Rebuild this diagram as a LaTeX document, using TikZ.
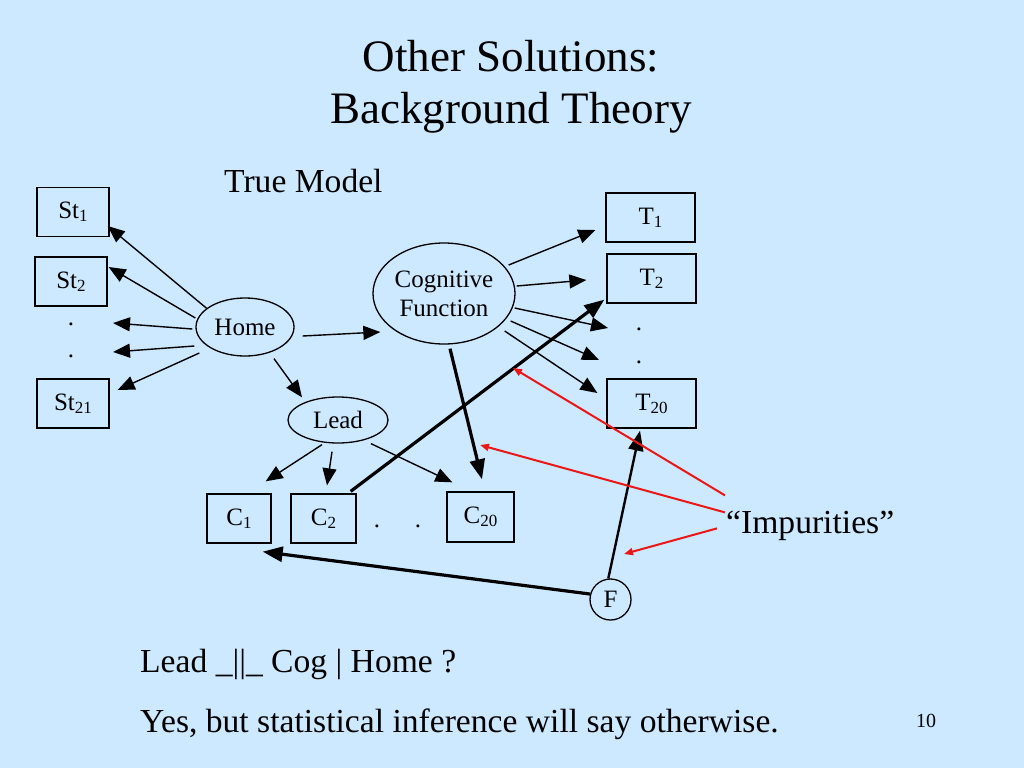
\documentclass[tikz,border=0pt]{standalone}
\usepackage{fontspec}
\setmainfont{Liberation Serif}
\usetikzlibrary{shapes.geometric,arrows.meta}
\definecolor{slideblue}{RGB}{204,233,255}
\definecolor{pointred}{RGB}{235,22,22}
\newcommand{\idx}[1]{\raisebox{-0.25ex}{\fontsize{17}{17}\selectfont #1}}
\tikzstyle{box} = [rectangle, minimum width=72pt, minimum height=49pt, inner sep=0pt, draw=black, line width=1.3pt, font=\fontsize{25}{29}\selectfont]
\tikzstyle{oval} = [ellipse, inner sep=0pt, draw=black, line width=1.3pt, font=\fontsize{25}{29}\selectfont, align=center]
\tikzstyle{txt} = [inner sep=0pt, font=\fontsize{25}{29}\selectfont]
\tikzstyle{arrow} = [line width=1.4pt,-{Triangle[length=17pt,width=14pt]}]
\tikzstyle{bigarrow} = [line width=3.2pt,-{Triangle[length=20pt,width=15pt]}]
\tikzstyle{redarrow} = [pointred,line width=2pt,-{Triangle[length=9pt,width=7pt]}]

\begin{document}
\begin{tikzpicture}[x=1pt,y=-1pt]
    \fill[slideblue] (0,0) rectangle (1024,768);
    \useasboundingbox (0,0) rectangle (1024,768);

    % title
    \node (title1) [inner sep=0pt, anchor=base, font=\fontsize{45}{52}\selectfont] at (511,71) {Other Solutions:};
    \node (title2) [inner sep=0pt, anchor=base, font=\fontsize{45}{52}\selectfont] at (511,123) {Background Theory};
    \node (model) [inner sep=0pt, anchor=base west, font=\fontsize{33.6}{40}\selectfont] at (224,192) {True Model};

    % left side
    \node (st1) [box] at (73,212) {St\idx{1}};
    \node (st2) [box] at (71,281.5) {St\idx{2}};
    \node (sdot1) [txt] at (71,324) {.};
    \node (sdot2) [txt] at (71,356) {.};
    \node (st21) [box] at (73,403.5) {St\idx{21}};
    \node (home) [oval, minimum width=98pt, minimum height=58pt] at (245,327) {Home};
    \node (lead) [oval, minimum width=100pt, minimum height=46pt] at (338,420) {Lead};
    \node (cog) [oval, minimum width=142pt, minimum height=101pt] at (444,293.5) {Cognitive\\Function};

    % right side
    \node (t1) [box, minimum width=89pt] at (650.5,217.5) {T\idx{1}};
    \node (t2) [box, minimum width=89pt] at (651.5,278.5) {T\idx{2}};
    \node (tdot1) [txt] at (639,329) {.};
    \node (tdot2) [txt] at (639,362) {.};
    \node (t20) [box, minimum width=89pt] at (651.5,403.5) {T\idx{20}};

    % bottom row
    \node (c1) [box, minimum width=64pt] at (239,518.5) {C\idx{1}};
    \node (c2) [box, minimum width=65pt] at (323.5,518.5) {C\idx{2}};
    \node (cdot1) [txt] at (377,526) {.};
    \node (cdot2) [txt] at (418,526) {.};
    \node (c20) [box, minimum width=67pt, minimum height=50pt] at (480.5,517) {C\idx{20}};
    \node (f) [circle, draw=black, line width=1.3pt, minimum size=41pt, inner sep=0pt, font=\fontsize{25}{29}\selectfont] at (610.5,599.5) {F};
    \node (imp) [inner sep=0pt, anchor=base west, font=\fontsize{33.6}{40}\selectfont] at (726,533) {``Impurities''};

    \coordinate (sd1) at (113,323);
    \coordinate (sd2) at (113,352);
    \coordinate (td1) at (608,328);
    \coordinate (td2) at (599,360);
    \coordinate (imp1) at (513,368);
    \coordinate (imp2) at (480,445);
    \coordinate (imp3) at (624,554);

    \draw[arrow] (home.154) -- ([shift={(-2,14)}]st1.east);
    \draw[arrow] ([shift={(0,-9)}]home.west) -- ([shift={(1,-14.5)}]st2.east);
    \draw[arrow] ([shift={(-3,2)}]home.west) -- (sd1);
    \draw[arrow] ([shift={(-1,19)}]home.west) -- (sd2);
    \draw[arrow] ([shift={(4,26)}]home.west) -- ([shift={(8,-13.5)}]st21.east);
    \draw[arrow] ([shift={(8,9)}]home.east) -- ([shift={(8,38.5)}]cog.west);
    \draw[arrow] ([shift={(29,2)}]home.south) -- ([shift={(-36,1)}]lead.north);

    \draw[arrow] ([shift={(-16,1)}]lead.south) -- ([shift={(-6,-12)}]c1.north east);
    \draw[arrow] ([shift={(-6,8)}]lead.south) -- ([shift={(3.5,-8)}]c2.north);
    \draw[arrow] ([shift={(33,0)}]lead.south) -- ([shift={(6,-9)}]c20.north west);

    \draw[arrow] ([shift={(-7,-28.5)}]cog.east) -- ([shift={(-10,12.5)}]t1.west);
    \draw[arrow] ([shift={(1,-7.5)}]cog.east) -- ([shift={(-20,1.5)}]t2.west);
    \draw[arrow] ([shift={(-1,14.5)}]cog.east) -- (td1);
    \draw[arrow] ([shift={(-5,27.5)}]cog.east) -- (td2);
    \draw[arrow] ([shift={(-11,37.5)}]cog.east) -- ([shift={(-9,-10.5)}]t20.west);

    \draw[bigarrow] ([shift={(6,4)}]cog.south) -- ([shift={(1.5,-12)}]c20.north);
    \draw[bigarrow] ([shift={(-6,-2)}]c2.north east) -- ([shift={(-2,-4)}]t2.south west);
    \draw[bigarrow] (f.165) -- ([shift={(-9,8)}]c1.south east);
    \draw[bigarrow, line width=2.4pt] (f.96) -- ([shift={(-11.5,2)}]t20.south);

    \draw[redarrow] ([shift={(-1,-30)}]imp.west) -- (imp1);
    \draw[redarrow] ([shift={(-1,-13)}]imp.west) -- (imp2);
    \draw[redarrow] ([shift={(-9,3)}]imp.west) -- (imp3);

    % question and answer
    \node (q) [inner sep=0pt, anchor=base west, font=\fontsize{33.6}{40}\selectfont] at (140,672) {Lead \_||\_ Cog | Home ?};
    \node (a) [inner sep=0pt, anchor=base west, font=\fontsize{33.6}{40}\selectfont] at (140,732) {Yes, but statistical inference will say otherwise.};
    \node (page) [inner sep=0pt, anchor=base west, font=\fontsize{20}{24}\selectfont] at (916,727) {10};
  \end{tikzpicture}
\end{document}
